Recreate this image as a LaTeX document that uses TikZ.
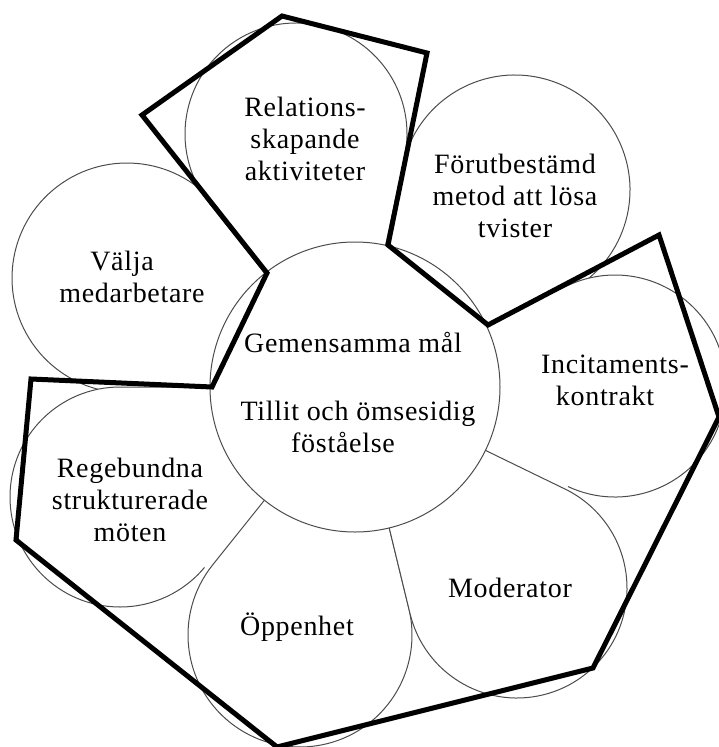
\documentclass[tikz,border=0pt]{standalone}
\usepackage{fontspec}
\setmainfont{Liberation Serif}[LetterSpace=2.5]
\usetikzlibrary{calc}
% #1 centre, #2 radius, #3 mode: 0 = all edges, 1 = no first straight edge, 2 = no last straight edge
\newcommand\petal[3]{%
  \path[fill=white] let \p1=($(C)-(#1)$), \n1={atan2(\y1,\x1)}, \n2={acos(#2/veclen(\x1,\y1))} in
    (C) -- ($(#1)+(\n1+\n2:#2pt)$) arc[start angle=\n1+\n2, end angle=\n1+360-\n2, radius=#2pt] -- cycle;
  \ifcase#3
  \draw[petalline] let \p1=($(C)-(#1)$), \n1={atan2(\y1,\x1)}, \n2={acos(#2/veclen(\x1,\y1))} in
    (C) -- ($(#1)+(\n1+\n2:#2pt)$) arc[start angle=\n1+\n2, end angle=\n1+360-\n2, radius=#2pt] -- cycle;
  \or
  \draw[petalline] let \p1=($(C)-(#1)$), \n1={atan2(\y1,\x1)}, \n2={acos(#2/veclen(\x1,\y1))} in
    ($(#1)+(\n1+\n2:#2pt)$) arc[start angle=\n1+\n2, end angle=\n1+360-\n2, radius=#2pt] -- (C);
  \or
  \draw[petalline] let \p1=($(C)-(#1)$), \n1={atan2(\y1,\x1)}, \n2={acos(#2/veclen(\x1,\y1))} in
    (C) -- ($(#1)+(\n1+\n2:#2pt)$) arc[start angle=\n1+\n2, end angle=\n1+360-\n2, radius=#2pt];
  \fi}
\begin{document}
\begin{tikzpicture}[x=1pt,y=-1pt,
  petalline/.style={draw=black!70,line width=1pt},
  hub/.style={circle,fill=white,draw=black!70,line width=1pt,minimum size=290pt,inner sep=0pt},
  frame/.style={line width=5pt,draw=black},
  lbl/.style={align=center,font=\fontsize{28}{32}\selectfont,inner sep=0pt}]
\useasboundingbox (0,0) rectangle (719,747);
\clip (0,0) rectangle (719,747);
\coordinate (C) at (355,387);
\coordinate (oV) at (127,278);
\coordinate (oR) at (120,497);
\coordinate (oF) at (515,190);
\coordinate (oS) at (296,134);
\coordinate (oI) at (615,386);
\coordinate (oO) at (300,635);
\coordinate (oM) at (517,588);
\petal{oV}{115}{0}
\petal{oR}{110}{2}
\petal{oF}{115}{0}
\petal{oS}{111}{0}
\petal{oI}{111}{1}
\petal{oO}{112}{0}
\petal{oM}{110}{0}
\node[hub] (hub) at (C) {};
\draw[frame] (212,387) -- (267,273) -- (142,115) -- (282,16) -- (427,53) -- (388,245)
  -- (488,325) -- (659,235) -- (719,417) -- (593,668) -- (277,747) -- (16,540) -- (31,379) -- cycle;
\node[lbl] (rel) at (305,139) {Relations-\\skapande\\aktiviteter};
\node[lbl] (forut) at (515,196) {Förutbestämd\\metod att lösa\\tvister};
\node[lbl] (valja) at (132,277) {Välja\hspace*{20pt}\\medarbetare};
\node[lbl] (rege) at (130,500) {Regebundna\\strukturerade\\möten};
\node[lbl] (oppen) at (297,627) {Öppenhet};
\node[lbl] (mod) at (510,588) {Moderator};
\node[lbl] (inci) at (615,380) {Incitaments-\\kontrakt\hspace*{20pt}};
\node[lbl] (gem) at (353,342) {Gemensamma mål};
\node[lbl] (till) at (358,427) {Tillit och ömsesidig\\föståelse\hspace*{30pt}};
\end{tikzpicture}
\end{document}
